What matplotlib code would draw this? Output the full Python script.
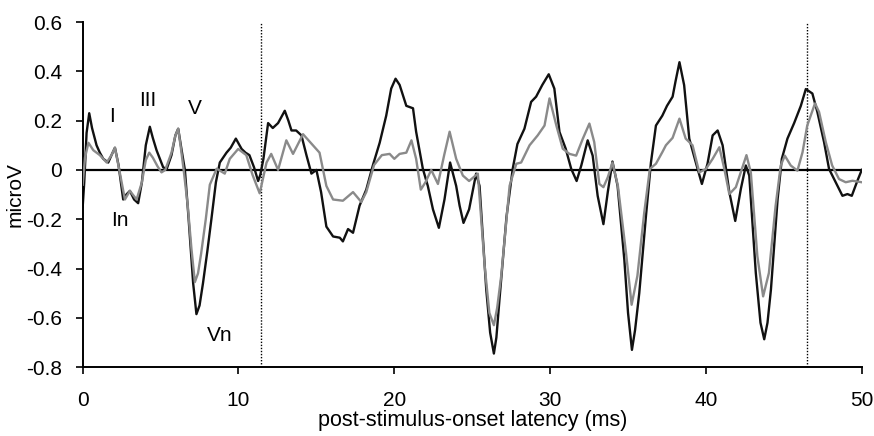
import matplotlib.pyplot as plt

plt.rcParams['font.family'] = ['Liberation Sans', 'DejaVu Sans']

black_t = [0.0, 0.1, 0.25, 0.42, 0.6, 0.89, 1.1, 1.32, 1.64, 1.85, 2.07, 2.3, 2.6, 2.8, 3.03, 3.3, 3.56,
           3.8, 4.05, 4.31, 4.5, 4.74, 5.17, 5.4, 5.7, 5.95, 6.13, 6.35, 6.56, 6.8, 7.09, 7.3, 7.5, 7.72,
           8.0, 8.26, 8.55, 8.8, 9.23, 9.5, 9.83, 10.2, 10.45, 10.7, 11.0, 11.26, 11.4, 11.6, 11.9, 12.2,
           12.54, 12.97, 13.2, 13.4, 13.7, 14.04, 14.36, 14.68, 15.0, 15.3, 15.64, 16.07, 16.5, 16.7,
           17.03, 17.35, 17.77, 18.2, 18.63, 19.06, 19.48, 19.8, 20.08, 20.34, 20.77, 21.2, 21.4, 21.83,
           22.15, 22.48, 22.86, 23.22, 23.58, 23.97, 24.19, 24.44, 24.8, 25.25, 25.47, 25.9, 26.15, 26.39,
           26.55, 26.75, 27.2, 27.6, 27.9, 28.35, 28.78, 29.1, 29.5, 29.91, 30.27, 30.6, 31.0, 31.35,
           31.7, 32.0, 32.41, 32.73, 33.05, 33.42, 33.7, 34.0, 34.33, 34.76, 35.0, 35.25, 35.45, 35.72,
           36.15, 36.47, 36.79, 37.2, 37.5, 37.86, 38.05, 38.3, 38.6, 38.93, 39.35, 39.74, 40.1, 40.43,
           40.75, 41.07, 41.5, 41.88, 42.24, 42.56, 42.78, 43.2, 43.5, 43.74, 43.95, 44.17, 44.6, 44.87,
           45.23, 45.66, 46.09, 46.41, 46.83, 47.15, 47.58, 47.9, 48.33, 48.76, 49.08, 49.36, 49.72, 50.0]
black_v = [-0.15, -0.05, 0.15, 0.23, 0.17, 0.10, 0.07, 0.045, 0.03, 0.06, 0.09, 0.02, -0.12, -0.10, -0.085,
           -0.12, -0.135, -0.05, 0.10, 0.175, 0.13, 0.08, 0.01, 0.005, 0.06, 0.14, 0.167, 0.08, 0.0, -0.20,
           -0.46, -0.585, -0.55, -0.46, -0.33, -0.20, -0.05, 0.03, 0.07, 0.09, 0.127, 0.085, 0.07, 0.06,
           0.01, -0.045, -0.02, 0.045, 0.19, 0.17, 0.19, 0.24, 0.20, 0.16, 0.16, 0.14, 0.06, -0.015, 0.0,
           -0.09, -0.23, -0.27, -0.275, -0.29, -0.24, -0.255, -0.145, -0.08, 0.02, 0.11, 0.22, 0.33, 0.37,
           0.345, 0.26, 0.25, 0.155, 0.005, -0.065, -0.16, -0.235, -0.12, 0.03, -0.065, -0.145, -0.215,
           -0.16, -0.015, -0.065, -0.485, -0.66, -0.745, -0.68, -0.525, -0.19, 0.005, 0.105, 0.167, 0.276,
           0.297, 0.345, 0.388, 0.33, 0.154, 0.086, 0.005, -0.045, 0.018, 0.12, 0.058, -0.105, -0.22,
           -0.09, 0.034, -0.065, -0.363, -0.58, -0.73, -0.65, -0.5, -0.187, 0.03, 0.18, 0.22, 0.26, 0.297,
           0.36, 0.437, 0.344, 0.127, 0.03, -0.057, 0.025, 0.14, 0.16, 0.1, -0.09, -0.207, -0.077, 0.018,
           -0.023, -0.418, -0.62, -0.687, -0.62, -0.486, -0.118, 0.045, 0.127, 0.19, 0.26, 0.328, 0.31,
           0.235, 0.113, 0.004, -0.05, -0.105, -0.098, -0.105, -0.044, 0.0]

gray_t = [0.0, 0.15, 0.37, 0.68, 1.1, 1.54, 1.85, 2.07, 2.35, 2.71, 3.03, 3.46, 3.8, 4.05, 4.27, 4.5, 4.8,
          5.06, 5.3, 5.7, 5.95, 6.13, 6.3, 6.5, 6.75, 6.98, 7.2, 7.4, 7.6, 7.9, 8.16, 8.6, 9.12, 9.44, 9.98,
          10.5, 10.9, 11.36, 11.8, 12.1, 12.54, 13.07, 13.5, 14.14, 14.78, 15.2, 15.64, 16.07, 16.7, 17.35,
          17.88, 18.2, 18.7, 19.2, 19.7, 20.0, 20.34, 20.77, 21.1, 21.4, 21.7, 22.0, 22.37, 22.8, 23.2,
          23.55, 23.97, 24.4, 24.8, 25.36, 25.8, 26.1, 26.39, 26.6, 26.86, 27.4, 27.83, 28.14, 28.68, 29.2,
          29.64, 29.96, 30.4, 30.81, 31.24, 31.67, 32.1, 32.52, 32.83, 33.16, 33.42, 33.7, 34.0, 34.35,
          34.87, 35.23, 35.6, 36.04, 36.4, 36.79, 37.2, 37.43, 37.86, 38.3, 38.7, 39.14, 39.57, 40.0, 40.43,
          40.86, 41.18, 41.5, 41.92, 42.6, 42.88, 43.3, 43.67, 44.04, 44.47, 44.8, 45.06, 45.44, 45.87,
          46.2, 46.5, 47.0, 47.26, 47.69, 48.1, 48.54, 48.97, 49.4, 50.0]
gray_v = [-0.06, 0.05, 0.11, 0.08, 0.06, 0.03, 0.06, 0.09, 0.0, -0.12, -0.085, -0.12, -0.05, 0.04, 0.07,
          0.05, 0.015, -0.01, 0.0, 0.07, 0.14, 0.167, 0.09, -0.01, -0.15, -0.32, -0.455, -0.42, -0.34,
          -0.20, -0.06, 0.005, -0.015, 0.045, 0.085, 0.06, -0.02, -0.095, 0.03, 0.065, 0.0, 0.12, 0.065,
          0.145, 0.1, 0.07, -0.065, -0.12, -0.125, -0.09, -0.13, -0.09, 0.02, 0.06, 0.065, 0.045, 0.065,
          0.07, 0.12, 0.045, -0.08, -0.05, 0.0, -0.057, 0.06, 0.155, 0.045, -0.023, -0.045, -0.015, -0.39,
          -0.58, -0.63, -0.56, -0.43, -0.064, 0.025, 0.03, 0.1, 0.14, 0.18, 0.29, 0.18, 0.086, 0.065, 0.058,
          0.127, 0.188, 0.113, -0.057, -0.07, -0.03, 0.03, -0.065, -0.336, -0.547, -0.43, -0.173, 0.004,
          0.025, 0.072, 0.1, 0.13, 0.208, 0.127, 0.1, -0.01, 0.004, 0.045, 0.092, 0.004, -0.098, -0.07,
          0.06, -0.01, -0.35, -0.513, -0.418, -0.146, 0.018, 0.058, 0.018, -0.003, 0.072, 0.18, 0.27,
          0.235, 0.113, 0.018, -0.037, -0.05, -0.044, -0.05]

markers_t = [11.45, 46.5]
wave_labels = ['I', 'III', 'V', 'In', 'Vn']
wave_x = [1.9, 4.2, 7.2, 2.4, 8.8]
wave_y = [0.215, 0.283, 0.25, -0.207, -0.67]

fig = plt.figure(figsize=(8.74, 4.36), dpi=100)
ax = fig.add_axes([0.0946, 0.158, 0.8914, 0.7915])

ax.axhline(0, color='black', lw=1.6, zorder=1)
for t in markers_t:
    ax.plot([t, t], [-0.8, 0.6], color='black', lw=1.0, ls=(0, (1, 1.2)), zorder=1)
ax.plot(black_t, black_v, color='#111111', lw=1.7, zorder=2, solid_joinstyle='round')
ax.plot(gray_t, gray_v, color='#8a8a8a', lw=1.7, zorder=3, solid_joinstyle='round')

for lab, x, y in zip(wave_labels, wave_x, wave_y):
    ax.text(x, y, lab, fontsize=15, ha='center', va='center')

ax.set_xlim(0, 50)
ax.set_ylim(-0.8, 0.6)
ax.set_xticks([0, 10, 20, 30, 40, 50])
ax.set_yticks([-0.8, -0.6, -0.4, -0.2, 0, 0.2, 0.4, 0.6])
ax.set_yticklabels(['-0.8', '-0.6', '-0.4', '-0.2', '0', '0.2', '0.4', '0.6'])
ax.spines['top'].set_visible(False)
ax.spines['right'].set_visible(False)
ax.spines['left'].set_linewidth(1.4)
ax.spines['bottom'].set_linewidth(1.4)
ax.tick_params(direction='out', length=5, width=1.2, labelsize=15)
ax.tick_params(axis='x', pad=12)
ax.tick_params(axis='y', pad=10)
ax.set_xlabel('post-stimulus-onset latency (ms)', fontsize=15.5, labelpad=0)
ax.set_ylabel('microV', fontsize=15, labelpad=1)

fig.savefig('out.png', dpi=100)
